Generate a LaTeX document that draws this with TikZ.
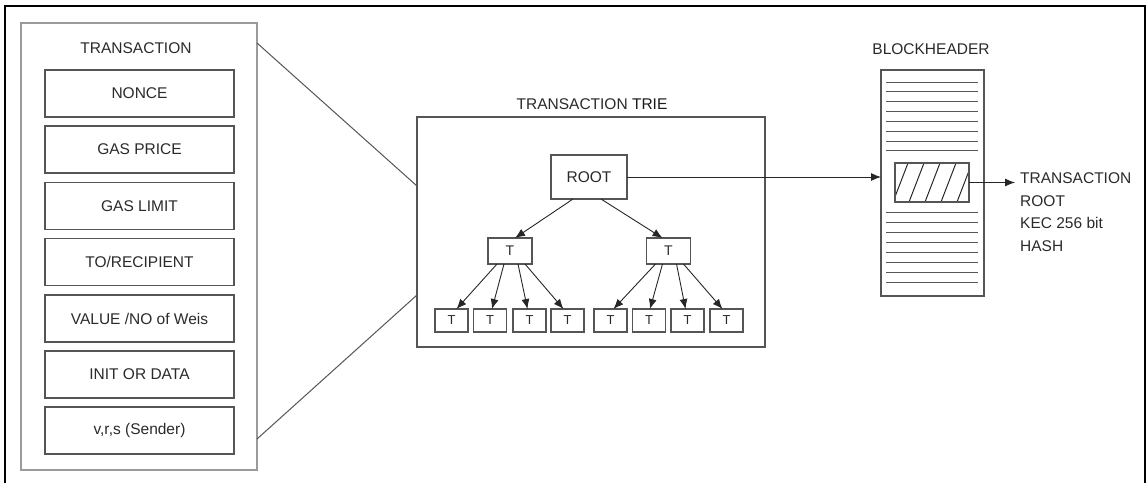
\documentclass[tikz,border=0pt]{standalone}
\usepackage{fontspec}
\setmainfont{Liberation Sans}
\usetikzlibrary{arrows.meta}
\definecolor{txt}{HTML}{2A2A2A}
\definecolor{boxc}{HTML}{555555}
\definecolor{lightbox}{HTML}{9A9A9A}
\tikzset{
  every node/.style={text=txt, font=\fontsize{15.5}{18}\selectfont},
  box/.style={draw=boxc, line width=1.1pt, rectangle, inner sep=0pt, outer sep=0pt},
  field/.style={box, minimum width=189pt, minimum height=47pt},
  midt/.style={box, minimum width=44pt, minimum height=26pt, font=\fontsize{14}{16}\selectfont},
  leaf/.style={box, minimum width=33pt, minimum height=23pt, font=\fontsize{13}{15}\selectfont},
  arr/.style={draw=black!85, line width=0.9pt, -{Latex[length=10pt,width=8pt]}},
  conn/.style={draw=boxc, line width=1pt},
  title/.style={inner sep=0pt},
}
\begin{document}
\begin{tikzpicture}[x=1pt,y=-1pt]
\useasboundingbox (0,0) rectangle (1147,483);
% outer frame
\draw[black, line width=2pt] (5,483) -- (5,6) -- (1145,6) -- (1145,483);

% transaction box
\node[box, draw=lightbox, minimum width=236pt, minimum height=447pt] (tx) at (139,246.5) {};
\node[title] (txt) at (136,48) {TRANSACTION};
\node[field] (f1) at (139.5,93.5) {NONCE};
\node[field] (f2) at (139.5,149.5) {GAS PRICE};
\node[field] (f3) at (139.5,206) {GAS LIMIT};
\node[field] (f4) at (139.5,262) {TO/RECIPIENT};
\node[field] (f5) at (139.5,318.5) {VALUE /NO of Weis};
\node[field] (f6) at (139.5,374.5) {INIT OR DATA};
\node[field] (f7) at (139.5,430.5) {v,r,s (Sender)};

% trie box
\node[box, minimum width=348pt, minimum height=230pt] (trie) at (591,232) {};
\node[title] (trietitle) at (592,104) {TRANSACTION \textcolor{black!90}{TRIE}};

\draw[conn] ([yshift=203.5pt]tx.east) -- ([yshift=46pt]trie.west);
\draw[conn] ([yshift=-192.5pt]tx.east) -- ([yshift=-63pt]trie.west);

\node[box, minimum width=76pt, minimum height=44pt] (root) at (589,177) {ROOT};
\node[midt] (ml) at (510,251) {T};
\node[midt] (mr) at (668.5,251) {T};
\foreach \n/\x in {1/451.5,2/490,3/529.5,4/567.5,5/610.5,6/649,7/687.5,8/726.5}
  \node[leaf] (l\n) at (\x,320.5) {T};

\draw[arr] ([xshift=-16pt]root.south) -- ([xshift=5pt]ml.north);
\draw[arr] ([xshift=12pt]root.south) -- ([xshift=-6pt]mr.north);

\draw[arr] ([xshift=-13pt]ml.south) -- ([xshift=5pt]l1.north);
\draw[arr] ([xshift=-6pt]ml.south) -- ([xshift=2pt]l2.north);
\draw[arr] ([xshift=8pt]ml.south) -- ([xshift=-2pt]l3.north);
\draw[arr] ([xshift=15pt]ml.south) -- ([xshift=-4pt]l4.north);
\draw[arr] ([xshift=-13pt]mr.south) -- ([xshift=3pt]l5.north);
\draw[arr] ([xshift=-6pt]mr.south) -- ([xshift=1pt]l6.north);
\draw[arr] ([xshift=8pt]mr.south) -- ([xshift=-2pt]l7.north);
\draw[arr] ([xshift=15pt]mr.south) -- ([xshift=-4pt]l8.north);

% blockheader
\node[title] (bhtitle) at (931,49) {BLOCKHEADER};
\node[box, minimum width=103pt, minimum height=226pt] (bh) at (932.5,183) {};
\foreach \i in {0,...,7} {
  \draw[boxc, line width=1pt] (886,82+9.85*\i) -- (978,82+9.85*\i);
  \draw[boxc, line width=1pt] (886,212.7+9.95*\i) -- (978,212.7+9.95*\i);
}
\node[box, minimum width=74pt, minimum height=39pt] (hatch) at (932,182.5) {};
\begin{scope}
  \clip (895,163) rectangle (969,202);
  \foreach \k in {-1,...,5}
    \draw[black!85, line width=1pt] (893+16*\k,202) -- (908+16*\k,163);
\end{scope}
\draw[boxc, line width=1.1pt] (895,163) rectangle (969,202);

\draw[arr] (root.east) -- (root.east -| bh.west);

\coordinate (hend) at (1015,182.5);
\draw[arr] (hatch.east) -- (hend);
\node[title, anchor=north west, align=left, font=\fontsize{15.5}{22.7}\selectfont] (hashtxt) at (1020,172.5) {TRANSACTION\\ROOT\\KEC 256 bit\\HASH};
\end{tikzpicture}
\end{document}
